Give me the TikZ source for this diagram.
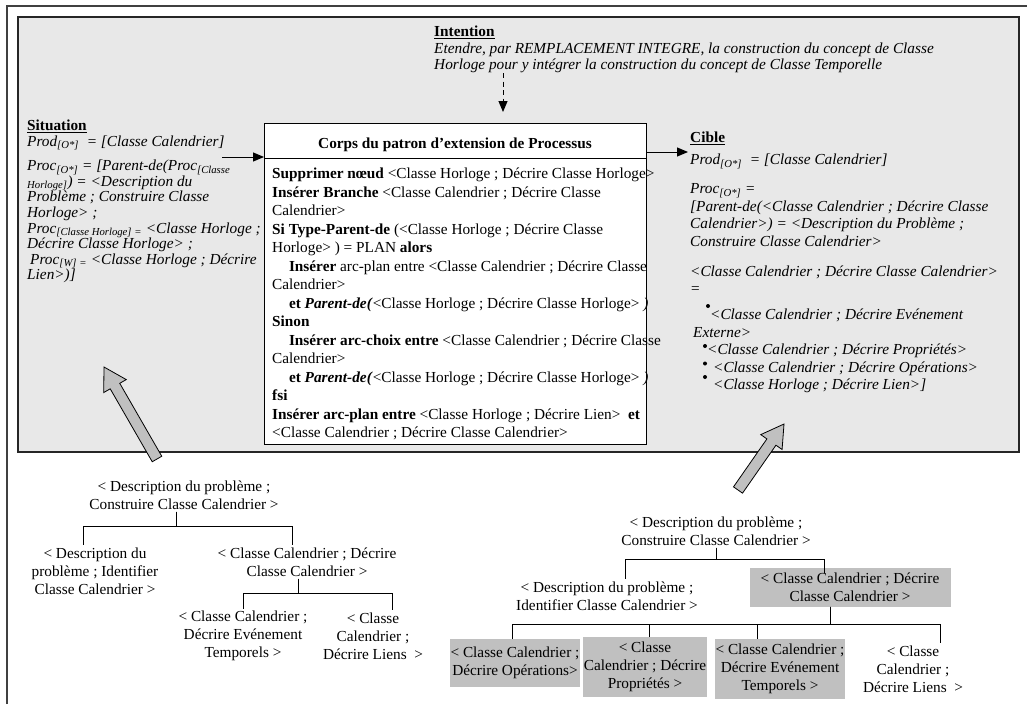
\documentclass[tikz,border=0pt]{standalone}
\usepackage{fontspec}
\setmainfont{Liberation Serif}
\usetikzlibrary{arrows.meta, calc}

\definecolor{fondgris}{RGB}{232,232,232}
\definecolor{boitegris}{RGB}{192,192,192}

\newcommand{\corpsfont}{\fontsize{15.3}{18.5}\selectfont}
\newcommand{\sitfont}{\fontsize{15.3}{15.6}\selectfont\itshape}
\newcommand{\ciblefont}{\fontsize{15.3}{17.5}\selectfont\itshape}
\newcommand{\intfont}{\fontsize{15.3}{16}\selectfont\itshape}
\newcommand{\arbrefont}{\fontsize{15.3}{18}\selectfont}

% grosse fleche grise : de #1 (queue) vers #2 (pointe)
\newcommand{\grossefleche}[2]{%
  \coordinate (hb) at ($(#2)!22pt!(#1)$);
  \draw[fleche] ($(#1)!5.5pt!90:(#2)$) -- ($(hb)!5.5pt!90:(#2)$) -- ($(hb)!13pt!90:(#2)$)
    -- (#2) -- ($(hb)!13pt!-90:(#2)$) -- ($(hb)!5.5pt!-90:(#2)$) -- ($(#1)!5.5pt!-90:(#2)$) -- cycle;
}

\begin{document}
\begin{tikzpicture}[x=1pt, y=-1pt,
  cadre/.style={draw=black!75, line width=1.2pt},
  panneau/.style={draw=black!85, line width=1.4pt, fill=fondgris},
  corps/.style={draw, line width=1.2pt, fill=white},
  txt/.style={anchor=north west, inner sep=0pt, align=left},
  arr/.style={-{Triangle[length=11pt, width=9pt]}, line width=1pt},
  pointille/.style={arr, dash pattern=on 5pt off 3.5pt},
  tnode/.style={align=center, inner sep=2pt, font=\arbrefont},
  grisbox/.style={tnode, fill=boitegris, inner xsep=1pt},
  branche/.style={line width=1pt},
  fleche/.style={draw=black, fill=boitegris, line width=0.8pt}
]
  \useasboundingbox (0,0) rectangle (1027,704);
  \draw[cadre] (7,704) -- (7,6) -- (1027,6);
  \draw[panneau] (18,17) rectangle (1019,452);

  % intention
  \node[txt, font=\intfont] (intention) at (434,26)
    {\textup{\textbf{\underline{Intention}}}\\[1pt]
     Etendre, par REMPLACEMENT INTEGRE, la construction du concept de Classe\\
     Horloge pour y intégrer la construction du concept de Classe Temporelle};

  % corps du patron
  \node[corps, minimum width=382pt, minimum height=321pt, anchor=north west] (corps) at (264,123) {};
  \node[font=\corpsfont\bfseries] (titre) at (455,145) {Corps du patron d’extension de Processus};
  \coordinate (sep) at (455,158);
  \draw[line width=1pt] (corps.west |- sep) -- (corps.east |- sep);
  \node[txt, font=\corpsfont] (regles) at (272,168)
    {\textbf{Supprimer nœud} <Classe Horloge ; Décrire Classe Horloge>\\
     \textbf{Insérer Branche} <Classe Calendrier ; Décrire Classe\\
     Calendrier>\\
     \textbf{Si Type-Parent-de} (<Classe Horloge ; Décrire Classe\\
     Horloge> ) = PLAN \textbf{alors}\\
     \hspace*{1.1em}\textbf{Insérer} arc-plan entre <Classe Calendrier ; Décrire Classe\\
     Calendrier>\\
     \hspace*{1.1em}\textbf{et} \textbf{\textit{Parent-de(}}<Classe Horloge ; Décrire Classe Horloge> \textit{)}\\
     \textbf{Sinon}\\
     \hspace*{1.1em}\textbf{Insérer arc-choix entre} <Classe Calendrier ; Décrire Classe\\
     Calendrier>\\
     \hspace*{1.1em}\textbf{et} \textbf{\textit{Parent-de(}}<Classe Horloge ; Décrire Classe Horloge> \textit{)}\\
     \textbf{fsi}\\
     \textbf{Insérer arc-plan entre} <Classe Horloge ; Décrire Lien>~~\textbf{et}\\
     <Classe Calendrier ; Décrire Classe Calendrier>};

  % situation
  \node[txt, font=\sitfont] (situation) at (27,120)
    {\textup{\textbf{\underline{Situation}}}\\
     Prod\textsubscript{[O*]}~ = [Classe Calendrier]\\[8.7pt]
     Proc\textsubscript{[O*]} = [Parent-de(Proc\textsubscript{[Classe}\\
     \textsubscript{Horloge]}) = <Description du\\
     Problème ; Construire Classe\\
     Horloge> ;\\
     Proc\textsubscript{[Classe Horloge] =} <Classe Horloge ;\\
     Décrire Classe Horloge> ;\\
     \hspace*{3pt}Proc\textsubscript{[W] =} <Classe Horloge ; Décrire\\
     Lien>)]};

  % cible
  \node[txt, font=\ciblefont] (cible) at (690,132)
    {\textup{\textbf{\underline{Cible}}}\\[4.5pt]
     Prod\textsubscript{[O*]}~ = [Classe Calendrier]\\[11.5pt]
     Proc\textsubscript{[O*]} =\\
     {}[Parent-de(<Classe Calendrier ; Décrire Classe\\
     Calendrier>) = <Description du Problème ;\\
     Construire Classe Calendrier>\\[12.5pt]
     <Classe Calendrier ; Décrire Classe Calendrier>\\
     =\\[8.5pt]
     \hspace*{20pt}<Classe Calendrier ; Décrire Evénement\\
     \hspace*{3pt}Externe>\\
     \hspace*{17pt}<Classe Calendrier ; Décrire Propriétés>\\
     \hspace*{23pt}<Classe Calendrier ; Décrire Opérations>\\
     \hspace*{23pt}<Classe Horloge ; Décrire Lien>]};
  \fill (708,306) circle (2pt);
  \foreach \yb in {346, 363.5, 377}
    \fill (705,\yb) circle (2pt);

  % fleches du panneau
  \coordinate (intq) at (503,73);
  \draw[pointille, shorten >=11pt] (intq) -- (intq |- corps.north);
  \coordinate (sitq) at (222,157);
  \draw[arr] (sitq) -- (sitq -| corps.west);
  \coordinate (cibq) at (688,152);
  \draw[arr] (cibq -| corps.east) -- (cibq);

  % arbre de gauche
  \node[tnode] (racineG) at (184,495) {< Description du problème ;\\Construire Classe Calendrier >};
  \node[tnode] (idG) at (95,571) {< Description du\\problème ; Identifier\\Classe Calendrier >};
  \node[tnode] (decG) at (307,562) {< Classe Calendrier ; Décrire\\Classe Calendrier >};
  \node[tnode] (evtG) at (243,636) {< Classe Calendrier ;\\Décrire Evénement\\Temporels >};
  \node[tnode] (lienG) at (373,636) {< Classe\\Calendrier ;\\Décrire Liens~ >};

  \draw[branche] ([xshift=-8pt]racineG.south) -- ++(0,15) -| ([xshift=-12pt]idG.north);
  \draw[branche] ([xshift=-8pt]racineG.south) -- ++(0,15) -| ([xshift=-15pt]decG.north);
  \draw[branche] ([xshift=-9pt]decG.south) -- ++(0,15) -| (evtG.north);
  \draw[branche] ([xshift=-9pt]decG.south) -- ++(0,15) -| ([xshift=19pt]lienG.north);

  % arbre de droite
  \node[tnode] (racineD) at (716,531) {< Description du problème ;\\Construire Classe Calendrier >};
  \node[tnode] (idD) at (607,596) {< Description du problème ;\\Identifier Classe Calendrier >};
  \node[grisbox, minimum width=201pt, minimum height=39pt] (decD) at (850,587) {< Classe Calendrier ; Décrire\\Classe Calendrier >};
  \node[grisbox, minimum width=128pt, minimum height=48pt] (opD) at (515,663) {< Classe Calendrier ;\\Décrire Opérations>};
  \node[grisbox, minimum width=120pt, minimum height=60pt] (propD) at (645,667) {< Classe\\Calendrier ; Décrire\\Propriétés >};
  \node[grisbox, minimum width=130pt, minimum height=60pt] (evtD) at (780,669) {< Classe Calendrier ;\\Décrire Evénement\\Temporels >};
  \node[tnode] (lienD) at (913,669) {< Classe\\Calendrier ;\\Décrire Liens~ >};

  \draw[branche] (racineD.south) -- ++(0,12) -| ([xshift=18pt]idD.north);
  \draw[branche] (racineD.south) -- ++(0,12) -| ([xshift=-26pt, yshift=-6pt]decD.north);
  \draw[branche] ([xshift=-20pt]decD.south) -- ++(0,18) -| ([xshift=-3pt]opD.north);
  \draw[branche] ([xshift=-20pt]decD.south) -- ++(0,18) -| ([xshift=4pt]propD.north);
  \draw[branche] ([xshift=-20pt]decD.south) -- ++(0,18) -| ([xshift=-23pt]evtD.north);
  \draw[branche] ([xshift=-20pt]decD.south) -- ++(0,18) -| ([xshift=27pt]lienD.north);

  % grosses fleches
  \coordinate (flgq) at (157,459);
  \coordinate (flgp) at (104,367);
  \coordinate (fldq) at (738,490);
  \coordinate (fldp) at (784,424);
  \grossefleche{flgq}{flgp}
  \grossefleche{fldq}{fldp}
\end{tikzpicture}
\end{document}
